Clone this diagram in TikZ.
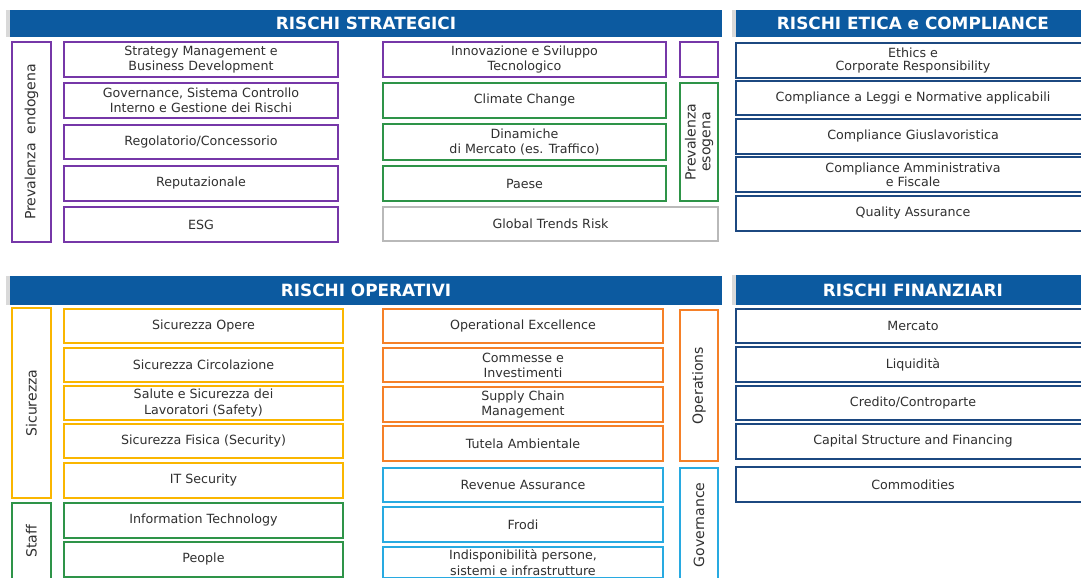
\documentclass[tikz,border=0pt]{standalone}
\usepackage{fontspec}
\setmainfont{DejaVu Sans}
\usetikzlibrary{fit,shadows}
\definecolor{hdrblue}{RGB}{12,90,160}
\definecolor{navy}{RGB}{28,72,128}
\definecolor{purp}{RGB}{118,55,168}
\definecolor{grn}{RGB}{46,148,72}
\definecolor{amber}{RGB}{250,182,0}
\definecolor{orng}{RGB}{245,128,40}
\definecolor{cyn}{RGB}{40,170,225}
\definecolor{lgray}{RGB}{185,185,185}
\definecolor{txtgray}{RGB}{48,48,48}

\begin{document}
\begin{tikzpicture}[x=0.025cm, y=-0.025cm,
  every node/.style={font=\fontsize{9}{10.8}\selectfont, text=txtgray, align=center},
  riskbox/.style={draw=#1, line width=1.2pt, inner sep=0pt, fill=white},
  navybox/.style={draw=navy, line width=1.7pt, inner sep=0pt, fill=white},
  header/.style={fill=hdrblue, inner sep=0pt,
    drop shadow={shadow xshift=-3pt, shadow yshift=0pt, fill=black, opacity=0.15}},
  htext/.style={text=white, font=\fontsize{12}{13}\selectfont\bfseries},
  vlabel/.style={rotate=90, font=\fontsize{10}{11}\selectfont}]
  \useasboundingbox (0,0) rectangle (1081,578);
  \clip (0,0) rectangle (1081,578);
  \fill[white] (0,0) rectangle (1081,578);

  % Headers
  \node[header, fit={(10,10) (722,37)}, label={[htext]center:RISCHI STRATEGICI}] (hstrat) {};
  \node[header, fit={(736,10) (1090,37)}, label={[htext]center:RISCHI ETICA e COMPLIANCE}] (hetica) {};
  \node[header, fit={(10,276) (722,305)}, label={[htext]center:RISCHI OPERATIVI}] (hoper) {};
  \node[header, fit={(736,275) (1090,305)}, label={[htext]center:RISCHI FINANZIARI}] (hfin) {};

  % Rischi strategici - prevalenza endogena
  \node[riskbox=purp, fit={(12,42) (51,242)}] (endo) {};
  \node[vlabel] at (endo.center) (endolab) {Prevalenza~ endogena};
  \node[riskbox=purp, fit={(64,42) (338,77)}, label={center:{Strategy Management e\\Business Development}}] (s1) {};
  \node[riskbox=purp, fit={(64,83) (338,118)}, label={center:{Governance, Sistema Controllo\\Interno e Gestione dei Rischi}}] (s2) {};
  \node[riskbox=purp, fit={(64,125) (338,159)}, label={center:Regolatorio/Concessorio}] (s3) {};
  \node[riskbox=purp, fit={(64,166) (338,201)}, label={center:Reputazionale}] (s4) {};
  \node[riskbox=purp, fit={(64,207) (338,242)}, label={center:ESG}] (s5) {};

  % Rischi strategici - prevalenza esogena
  \node[riskbox=purp, fit={(383,42) (666,77)}, label={center:{Innovazione e Sviluppo\\Tecnologico}}] (s6) {};
  \node[riskbox=purp, fit={(680,42) (718,77)}] (endo2) {};
  \node[riskbox=grn, fit={(383,83) (666,118)}, label={center:Climate Change}] (s7) {};
  \node[riskbox=grn, fit={(383,124) (666,160)}, label={center:{Dinamiche\\di Mercato (es. Traffico)}}] (s8) {};
  \node[riskbox=grn, fit={(383,166) (666,201)}, label={center:Paese}] (s9) {};
  \node[riskbox=grn, fit={(680,83) (718,201)}] (eso) {};
  \node[vlabel, font=\fontsize{10}{10.5}\selectfont] at (eso.center) (esolab) {Prevalenza\\esogena};
  \node[riskbox=lgray, fit={(383,207) (718,241)}, label={center:Global Trends Risk}] (s10) {};

  % Rischi etica e compliance
  \node[navybox, fit={(736,43) (1090,78)}, label={[font=\fontsize{9}{9.8}\selectfont]center:{Ethics e\\Corporate Responsibility}}] (c1) {};
  \node[navybox, fit={(736,81) (1090,115)}, label={center:Compliance a Leggi e Normative applicabili}] (c2) {};
  \node[navybox, fit={(736,119) (1090,154)}, label={center:Compliance Giuslavoristica}] (c3) {};
  \node[navybox, fit={(736,157) (1090,192)}, label={[font=\fontsize{9}{9.8}\selectfont]center:{Compliance Amministrativa\\e Fiscale}}] (c4) {};
  \node[navybox, fit={(736,196) (1090,231)}, label={center:Quality Assurance}] (c5) {};

  % Rischi operativi - sicurezza e staff
  \node[riskbox=amber, fit={(12,308) (51,498)}] (sic) {};
  \node[vlabel] at (sic.center) (siclab) {Sicurezza};
  \node[riskbox=amber, fit={(64,309) (343,343)}, label={center:Sicurezza Opere}] (o1) {};
  \node[riskbox=amber, fit={(64,348) (343,382)}, label={center:Sicurezza Circolazione}] (o2) {};
  \node[riskbox=amber, fit={(64,386) (343,420)}, label={center:{Salute e Sicurezza dei\\Lavoratori (Safety)}}] (o3) {};
  \node[riskbox=amber, fit={(64,424) (343,458)}, label={center:Sicurezza Fisica (Security)}] (o4) {};
  \node[riskbox=amber, fit={(64,463) (343,498)}, label={center:IT Security}] (o5) {};
  \node[riskbox=grn, fit={(12,503) (51,580)}] (staff) {};
  \node[vlabel] at (staff.center) (stafflab) {Staff};
  \node[riskbox=grn, fit={(64,503) (343,538)}, label={center:Information Technology}] (o6) {};
  \node[riskbox=grn, fit={(64,542) (343,577)}, label={center:People}] (o7) {};

  % Rischi operativi - operations e governance
  \node[riskbox=orng, fit={(383,309) (663,343)}, label={center:Operational Excellence}] (o8) {};
  \node[riskbox=orng, fit={(383,348) (663,382)}, label={center:{Commesse e\\Investimenti}}] (o9) {};
  \node[riskbox=orng, fit={(383,387) (663,422)}, label={center:{Supply Chain\\Management}}] (o10) {};
  \node[riskbox=orng, fit={(383,426) (663,461)}, label={center:Tutela Ambientale}] (o11) {};
  \node[riskbox=orng, fit={(680,310) (718,461)}] (ops) {};
  \node[vlabel] at (ops.center) (opslab) {Operations};
  \node[riskbox=cyn, fit={(383,468) (663,502)}, label={center:Revenue Assurance}] (o12) {};
  \node[riskbox=cyn, fit={(383,507) (663,542)}, label={center:Frodi}] (o13) {};
  \node[riskbox=cyn, fit={(383,547) (663,578)}, label={center:{Indisponibilità persone,\\sistemi e infrastrutture}}] (o14) {};
  \node[riskbox=cyn, fit={(680,468) (718,582)}] (gov) {};
  \node[vlabel] at (gov.center) (govlab) {Governance};

  % Rischi finanziari
  \node[navybox, fit={(736,309) (1090,343)}, label={center:Mercato}] (f1) {};
  \node[navybox, fit={(736,347) (1090,382)}, label={center:Liquidità}] (f2) {};
  \node[navybox, fit={(736,386) (1090,420)}, label={center:Credito/Controparte}] (f3) {};
  \node[navybox, fit={(736,424) (1090,459)}, label={center:Capital Structure and Financing}] (f4) {};
  \node[navybox, fit={(736,467) (1090,502)}, label={center:Commodities}] (f5) {};
\end{tikzpicture}
\end{document}
